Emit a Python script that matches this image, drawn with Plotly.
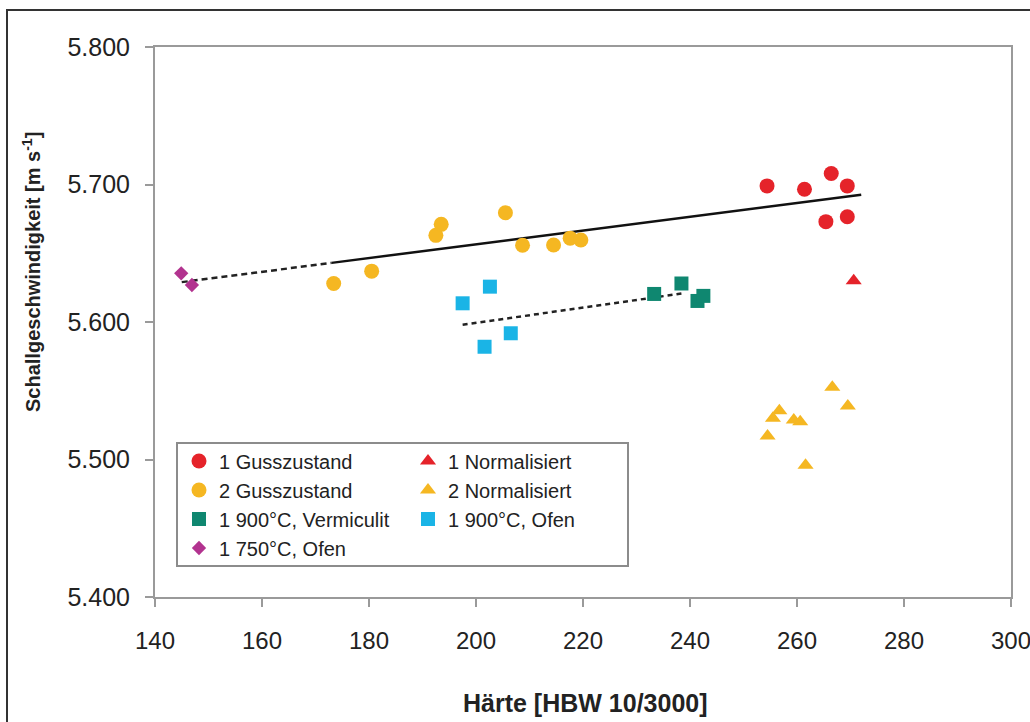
import plotly.graph_objects as go

# ---------------- data ----------------
guss1_x = [254.4, 261.4, 266.4, 269.4, 265.4, 269.4]
guss1_y = [5.699, 5.6965, 5.708, 5.699, 5.673, 5.6766]

norm1_x = [270.6]
norm1_y = [5.630]

guss2_x = [173.4, 180.5, 192.5, 193.5, 205.5, 208.7, 214.5, 217.6, 219.6]
guss2_y = [5.628, 5.637, 5.663, 5.671, 5.6795, 5.6558, 5.656, 5.661, 5.6596]

norm2_x = [266.6, 269.5, 256.7, 255.5, 259.4, 260.6, 254.5, 261.6]
norm2_y = [5.5525, 5.539, 5.5355, 5.530, 5.5287, 5.5275, 5.517, 5.4958]

verm_x = [233.3, 238.4, 241.4, 242.5]
verm_y = [5.6204, 5.628, 5.6153, 5.619]

ofen900_x = [197.5, 202.6, 201.6, 206.5]
ofen900_y = [5.6136, 5.6257, 5.582, 5.5918]

ofen750_x = [144.9, 146.9]
ofen750_y = [5.6354, 5.6269]

trend1_dash_x = [145, 173]
trend1_dash_y = [5.629, 5.643]
trend1_solid_x = [173, 272]
trend1_solid_y = [5.643, 5.6925]
trend2_x = [197.5, 239]
trend2_y = [5.598, 5.621]

x_ticks = [140, 160, 180, 200, 220, 240, 260, 280, 300]
y_ticks = [5.4, 5.5, 5.6, 5.7, 5.8]
y_tick_labels = ["5.400", "5.500", "5.600", "5.700", "5.800"]

# ---------------- style ----------------
RED = "#E5232A"
YEL = "#F5B722"
GRN = "#0F8770"
CYA = "#1AB4E6"
MAG = "#B2338F"
FONT = "Liberation Sans, Arial, sans-serif"

fig = go.Figure()

# trend lines
fig.add_trace(go.Scatter(x=trend1_dash_x, y=trend1_dash_y, mode="lines",
                         line=dict(color="#222", width=2.5, dash="6px,4px"),
                         showlegend=False, hoverinfo="skip"))
fig.add_trace(go.Scatter(x=trend1_solid_x, y=trend1_solid_y, mode="lines",
                         line=dict(color="#111", width=2.5),
                         showlegend=False, hoverinfo="skip"))
fig.add_trace(go.Scatter(x=trend2_x, y=trend2_y, mode="lines",
                         line=dict(color="#222", width=2.5, dash="5px,4px"),
                         showlegend=False, hoverinfo="skip"))

# column 1 of legend
fig.add_trace(go.Scatter(x=guss1_x, y=guss1_y, mode="markers", name="1 Gusszustand",
                         marker=dict(symbol="circle", size=15, color=RED), legend="legend"))
fig.add_trace(go.Scatter(x=guss2_x, y=guss2_y, mode="markers", name="2 Gusszustand",
                         marker=dict(symbol="circle", size=15, color=YEL), legend="legend"))
fig.add_trace(go.Scatter(x=verm_x, y=verm_y, mode="markers", name="1 900°C, Vermiculit",
                         marker=dict(symbol="square", size=14, color=GRN), legend="legend"))
fig.add_trace(go.Scatter(x=ofen750_x, y=ofen750_y, mode="markers", name="1 750°C, Ofen",
                         marker=dict(symbol="diamond", size=11, color=MAG), legend="legend"))
# column 2 of legend
fig.add_trace(go.Scatter(x=norm1_x, y=norm1_y, mode="markers", name="1 Normalisiert",
                         marker=dict(symbol="triangle-up", size=14, color=RED), legend="legend2"))
fig.add_trace(go.Scatter(x=norm2_x, y=norm2_y, mode="markers", name="2 Normalisiert",
                         marker=dict(symbol="triangle-up", size=14, color=YEL), legend="legend2"))
fig.add_trace(go.Scatter(x=ofen900_x, y=ofen900_y, mode="markers", name="1 900°C, Ofen",
                         marker=dict(symbol="square", size=14, color=CYA), legend="legend2"))

L, R, T, B = 155, 19, 47, 125
W, H = 1030, 722
PW, PH = W - L - R, H - T - B

def px(xp):
    return (xp - L) / PW

def py(yp):
    return (H - B - yp) / PH

AXC = "#9a9a9a"
fig.update_layout(
    width=W, height=H, autosize=False,
    margin=dict(l=L, r=R, t=T, b=B, pad=0, autoexpand=False),
    paper_bgcolor="white", plot_bgcolor="white",
    font=dict(family=FONT, color="#222"),
    xaxis=dict(range=[140, 300], tickvals=x_ticks, showgrid=False, zeroline=False,
               showline=True, linecolor=AXC, linewidth=2, mirror=True,
               ticks="outside", ticklen=8, tickcolor=AXC, tickwidth=1.5,
               tickfont=dict(family=FONT, size=24, color="#222"),
               ticklabelstandoff=13, ticklabeloverflow="allow", automargin=False),
    yaxis=dict(range=[5.4, 5.8], tickvals=y_ticks, ticktext=y_tick_labels,
               showgrid=False, zeroline=False,
               showline=True, linecolor=AXC, linewidth=2, mirror=True,
               ticks="outside", ticklen=8, tickcolor=AXC, tickwidth=1.5,
               tickfont=dict(family=FONT, size=25, color="#222"),
               ticklabelstandoff=10, automargin=False),
    legend=dict(x=px(179), y=py(441.5), xanchor="left", yanchor="top",
                bgcolor="rgba(0,0,0,0)", borderwidth=0,
                font=dict(family=FONT, size=20, color="#222"), tracegroupgap=0),
    legend2=dict(x=px(408), y=py(441.5), xanchor="left", yanchor="top",
                 bgcolor="rgba(0,0,0,0)", borderwidth=0,
                 font=dict(family=FONT, size=20, color="#222"), tracegroupgap=0),
    shapes=[
        dict(type="rect", xref="paper", yref="paper",
             x0=px(177), x1=px(628), y0=py(566), y1=py(443),
             line=dict(color="#8c8c8c", width=2), fillcolor="rgba(0,0,0,0)"),
        dict(type="rect", xref="paper", yref="paper",
             x0=px(7), x1=px(1045), y0=py(740), y1=py(10),
             line=dict(color="#333", width=2), fillcolor="rgba(0,0,0,0)"),
    ],
    annotations=[
        dict(text="<b>Schallgeschwindigkeit [m s<sup>-1</sup>]</b>", textangle=-90,
             xref="paper", yref="paper", x=px(31), y=py(272),
             xanchor="center", yanchor="middle", showarrow=False,
             font=dict(family=FONT, size=20, color="#222")),
        dict(text="<b>Härte [HBW 10/3000]</b>",
             xref="paper", yref="paper", x=px(585), y=py(703),
             xanchor="center", yanchor="middle", showarrow=False,
             font=dict(family=FONT, size=25, color="#222")),
    ],
)

fig.write_html("out.html")
